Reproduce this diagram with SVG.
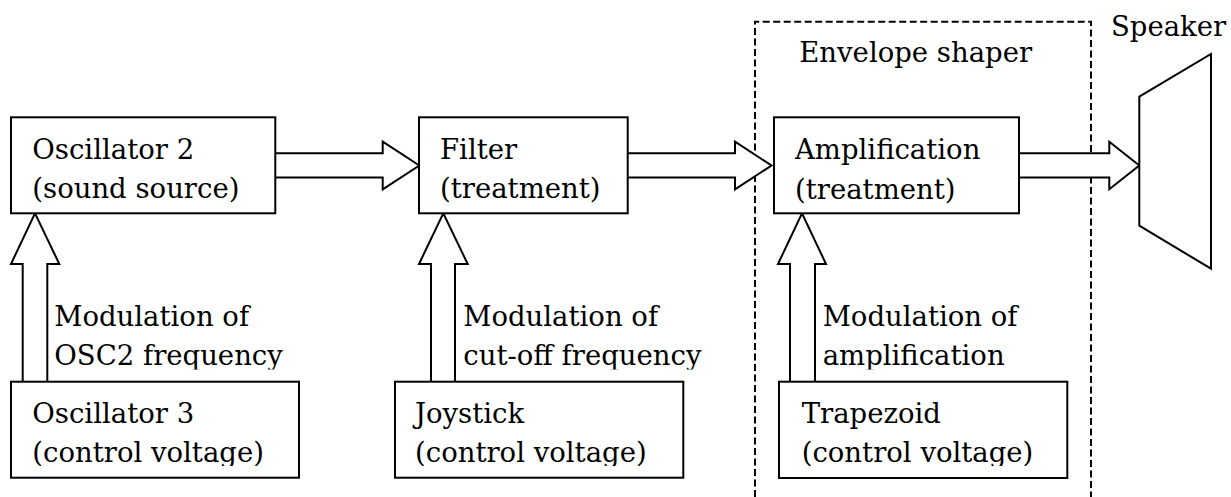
<svg xmlns="http://www.w3.org/2000/svg" width="1231" height="497" viewBox="0 0 1231 497">
<style>
.box{fill:#fff;stroke:#000;stroke-width:2}
.arr{fill:#fff;stroke:#000;stroke-width:2;stroke-linejoin:miter}
.dash{fill:none;stroke:#000;stroke-width:2;stroke-dasharray:7 3.5}
text{font-family:"DejaVu Serif","Liberation Serif",serif;font-size:27.5px;fill:#000}
</style>
<defs>
<clipPath id="clipMod"><rect x="0" y="280" width="1231" height="89.5"/></clipPath>
<clipPath id="clipCtl"><rect x="0" y="385" width="1231" height="81"/></clipPath>
</defs>
<rect width="1231" height="497" fill="#fff"/>
<g id="envelope-shaper">
<path class="dash" d="M755,497 V21.7 H1091 V497"/>
<text x="799.3" y="61.7">Envelope shaper</text>
</g>
<g id="connectors">
<path class="arr" d="M275.3,153.3 H382.7 V141.7 L419.3,165.5 L382.7,189.3 V177.5 H275.3"/>
<path class="arr" d="M627.7,153.3 H735 V141.7 L771.5,165.5 L735,189.3 V177.5 H627.7"/>
<path class="arr" d="M1019,153.3 H1109.3 V141.7 L1139.3,165.5 L1109.3,189.3 V177.5 H1019"/>
<path class="arr" d="M22.7,381.7 V264 H11 L35,213.3 L59.3,264 H47.3 V381.7"/>
<path class="arr" d="M431,381.7 V264 H419 L443.3,213.3 L467.7,264 H455 V381.7"/>
<path class="arr" d="M790,381.7 V264 H778 L802,213.3 L826,264 H815 V381.7"/>
<g clip-path="url(#clipMod)">
<text x="54.3" y="326">Modulation of</text>
<text x="54.3" y="365">OSC2 frequency</text>
<text x="463.3" y="326">Modulation of</text>
<text x="463.3" y="365">cut-off frequency</text>
<text x="822.7" y="326">Modulation of</text>
<text x="822.7" y="365">amplification</text>
</g>
</g>
<g id="osc2">
<rect class="box" x="11" y="117.3" width="264.3" height="96"/>
<text x="32.3" y="159.3">Oscillator 2</text>
<text x="32.3" y="198">(sound source)</text>
</g>
<g id="filter">
<rect class="box" x="419" y="117.3" width="208.7" height="96"/>
<text x="440" y="159.3">Filter</text>
<text x="440" y="198">(treatment)</text>
</g>
<g id="amplification">
<rect class="box" x="774" y="117.3" width="245" height="96"/>
<text x="795" y="158.8">Amplification</text>
<text x="795" y="198.5">(treatment)</text>
</g>
<g id="speaker">
<path class="box" d="M1139.3,96.7 L1211,54 V268.7 L1139.3,225.7 Z"/>
<text x="1111" y="36">Speaker</text>
</g>
<g id="osc3">
<rect class="box" x="11" y="381.7" width="288" height="96"/>
<text x="32.3" y="422.7">Oscillator 3</text>
<text x="32.3" y="461.7" clip-path="url(#clipCtl)">(control voltage)</text>
</g>
<g id="joystick">
<rect class="box" x="395" y="381.7" width="288.3" height="96"/>
<text x="415" y="422.7">Joystick</text>
<text x="415" y="461.7" clip-path="url(#clipCtl)">(control voltage)</text>
</g>
<g id="trapezoid">
<rect class="box" x="779" y="381.7" width="288.3" height="96.3"/>
<text x="801.7" y="422.7">Trapezoid</text>
<text x="801.7" y="461.7" clip-path="url(#clipCtl)">(control voltage)</text>
</g>
</svg>
